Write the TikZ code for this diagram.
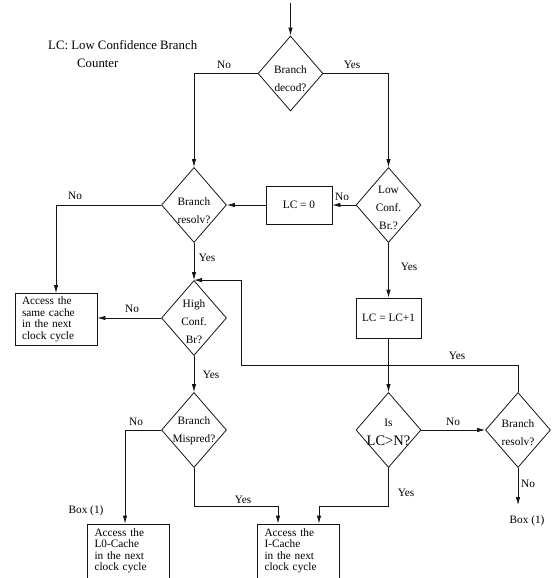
\documentclass[tikz,border=0pt]{standalone}
\usepackage{fontspec}
\setmainfont{Liberation Serif}
\usepackage{tikz}
\usetikzlibrary{arrows.meta,positioning,shapes.geometric}
\definecolor{trazo}{HTML}{151515}

\begin{document}
\begin{tikzpicture}[x=1bp,y=-1bp,
    rombo/.style={draw=trazo,shape=diamond,inner sep=0pt,line width=0.8pt,
                  minimum width=65bp,minimum height=75bp},
    dtexto/.style={align=center,inner sep=0pt,
                   font=\fontsize{11.3bp}{18bp}\selectfont},
    caja/.style={draw=trazo,line width=0.8pt,inner sep=0pt,align=center,
                 font=\fontsize{11.3bp}{13bp}\selectfont},
    acceso/.style={caja,align=left,text width=68bp,inner xsep=7bp,
                   minimum height=52bp,font=\fontsize{11.3bp}{11.5bp}\selectfont},
    etq/.style={inner sep=1pt,font=\fontsize{11.3bp}{13bp}\selectfont},
    flujo/.style={draw=trazo,line width=0.8pt},
    >={Latex[length=8bp,width=4.5bp]}]
  \useasboundingbox (0,0) rectangle (558,578);

  \node[etq,align=left,anchor=west,font=\fontsize{12.8bp}{18bp}\selectfont]
    (nota) at (47,54) {LC: Low Confidence Branch\\\hspace{29bp}Counter};

  % rombos de decision
  \node[rombo] (bd)  at (290.5,73.5) {};
  \node[rombo] (lcb) at (388.5,205)  {};
  \node[rombo] (br1) at (194,205)    {};
  \node[rombo] (hc)  at (194,318)    {};
  \node[rombo] (mp)  at (194,430)    {};
  \node[rombo] (lcn) at (388.5,430)  {};
  \node[rombo] (br2) at (518,430)    {};
  \node[dtexto] (bd-t)  at ([yshift=-5bp]bd.center)  {Branch\\decod?};
  \node[dtexto] (lcb-t) at ([yshift=-3bp]lcb.center) {Low\\Conf.\\Br.?};
  \node[dtexto] (br1-t) at ([yshift=-6bp]br1.center) {Branch\\resolv?};
  \node[dtexto] (hc-t)  at ([yshift=-4bp]hc.center)  {High\\Conf.\\Br?};
  \node[dtexto] (mp-t)  at ([yshift=-1bp]mp.center)  {Branch\\Mispred?};
  \node[dtexto] (lcn-t) at ([yshift=-2bp]lcn.center)
    {Is\\[1bp]{\fontsize{14.5bp}{16bp}\selectfont LC>N?}};
  \node[dtexto] (br2-t) at ([yshift=-3bp]br2.center) {Branch\\resolv?};

  % cajas
  \node[caja,minimum width=66bp,minimum height=38bp] (lc0) at (299,205) {LC = 0};
  \node[caja,minimum width=65bp,minimum height=40bp] (lc1) at (388.5,318) {LC = LC+1};
  \node[acceso] (same) at (56,319.5) {Access the\\same cache\\in the next\\clock cycle};
  \node[acceso,minimum height=54bp] (l0) at (128.5,551)
    {Access the\\L0-Cache\\in the next\\clock cycle};
  \node[acceso,minimum height=54bp] (ic) at (298.5,551)
    {Access the\\I-Cache\\in the next\\clock cycle};

  \coordinate (ent) at (290.5,3);
  \coordinate (ret) at (241,365);
  \coordinate (fin) at (518,505);

  \draw[flujo,->] (ent) -- (bd.north);
  \draw[flujo,->] (bd.west) -| (br1.north);
  \draw[flujo,->] (bd.east) -| (lcb.north);
  \draw[flujo,->] (lcb.west) -- (lc0.east);
  \draw[flujo,->] (lc0.west) -- (br1.east);
  \draw[flujo,->] (lcb.south) -- (lc1.north);
  \draw[flujo,->] (br1.west) -| (same.north);
  \draw[flujo,->] (br1.south) -- (hc.north);
  \draw[flujo,->] (hc.west) -- (hc.west -| same.east);
  \draw[flujo,->] (hc.south) -- (mp.north);
  \draw[flujo,->] (mp.west) -| ([xshift=-3.5bp]l0.north);
  \draw[flujo,->] (mp.south) -- ++(0,38) -| ([xshift=-20.5bp]ic.north);
  \draw[flujo,->] (lc1.south) -- (lcn.north);
  \draw[flujo,->] (lcn.east) -- (br2.west);
  \draw[flujo,->] (lcn.south) -- ++(0,38) -| ([xshift=20.5bp]ic.north);
  \draw[flujo,->] (br2.south) -- (fin);
  % vuelta desde el segundo "resolv?" hasta High Conf.
  \draw[flujo,->] (br2.north) |- (ret) |- (hc.north);

  \node[etq] (no1)  at (224,65)  {No};
  \node[etq] (si1)  at (352,65)  {Yes};
  \node[etq] (no2)  at (342,197) {No};
  \node[etq] (no3)  at (75,196)  {No};
  \node[etq] (si2)  at (409,267) {Yes};
  \node[etq] (si3)  at (207,258) {Yes};
  \node[etq] (no4)  at (132,309) {No};
  \node[etq] (si4)  at (211,375) {Yes};
  \node[etq] (si5)  at (457,356) {Yes};
  \node[etq] (no5)  at (136,422) {No};
  \node[etq] (no6)  at (453,422) {No};
  \node[etq] (si6)  at (243,500) {Yes};
  \node[etq] (si7)  at (406,493) {Yes};
  \node[etq] (no7)  at (528,484) {No};
  \node[etq] (box1) at (86,511)  {Box (1)};
  \node[etq] (box2) at (527,521) {Box (1)};
\end{tikzpicture}
\end{document}
